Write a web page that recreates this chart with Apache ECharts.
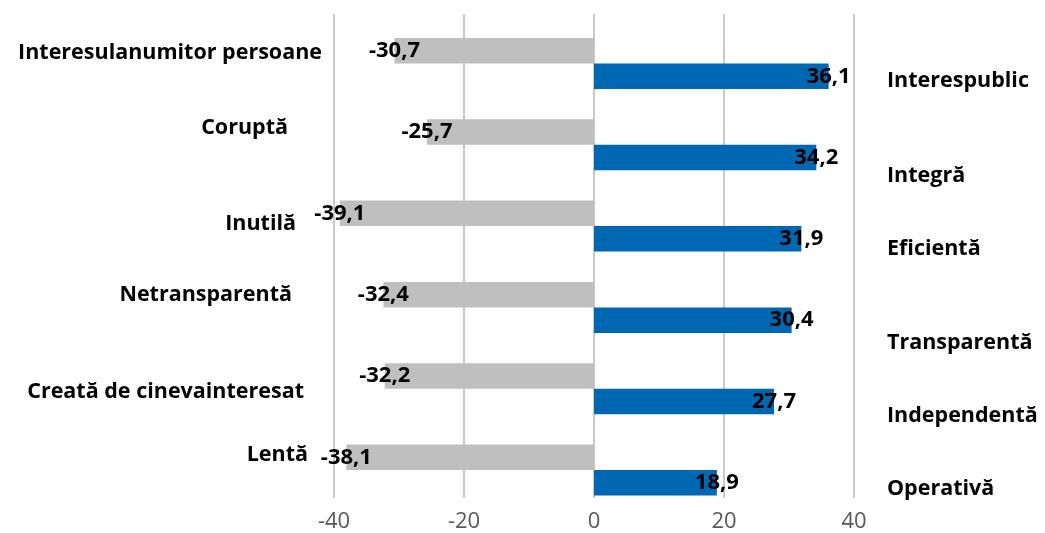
<!DOCTYPE html>
<html>
<head>
<meta charset="utf-8">
<script src="https://cdn.jsdelivr.net/npm/echarts@6/dist/echarts.min.js"></script>
<style>
html,body{margin:0;padding:0;background:#fff;}
#chart{width:1045px;height:533px;}
</style>
</head>
<body>
<div id="chart"></div>
<script>
// ---- data ----
const negCategories = ['Interesulanumitor persoane', 'Coruptă', 'Inutilă', 'Netransparentă', 'Creată de cinevainteresat', 'Lentă'];
const negValues = [-30.7, -25.7, -39.1, -32.4, -32.2, -38.1];
const posCategories = ['Interespublic', 'Integră', 'Eficientă', 'Transparentă', 'Independentă', 'Operativă'];
const posValues = [36.1, 34.2, 31.9, 30.4, 27.7, 18.9];
const xMin = -40, xMax = 40, xInterval = 20;

// ---- label placement styles (pixel nudges, not data) ----
const leftNudgeY = [-10.5, -17.3, -2.6, -12.4, 3.3, -15.5];
const leftNudgeX = [0, 34, 26, 30, 18, 14];
const rightNudgeY = [17, 31.2, 22.9, 35.6, 27.3, 19];

const FONT = '"Open Sans", sans-serif';
const fmt = v => v.toFixed(1).replace('.', ',');

function richFor(nudgesY, nudgesX) {
  const r = {};
  nudgesY.forEach((dy, i) => {
    const dx = nudgesX ? nudgesX[i] : 0;
    r['c' + i] = {
      fontFamily: FONT, fontWeight: 'bold', fontSize: 21.5, color: '#000',
      padding: [dy > 0 ? 2 * dy : 0, dx, dy < 0 ? -2 * dy : 0, 0]
    };
  });
  return r;
}

const chart = echarts.init(document.getElementById('chart'), null, {renderer: 'canvas'});
chart.setOption({
  backgroundColor: '#ffffff',
  animation: false,
  grid: [
    {left: 334, right: 191, top: 22.85, bottom: 22.35},
    {left: 334, right: 191, top: 14, bottom: 35}
  ],
  xAxis: [
    {gridIndex: 0, type: 'value', min: xMin, max: xMax, interval: xInterval, show: false},
    {gridIndex: 1, type: 'value', min: xMin, max: xMax, interval: xInterval,
     axisLine: {show: false}, axisTick: {show: false},
     splitLine: {show: true, lineStyle: {color: '#c9c9c9', width: 2}},
     axisLabel: {fontFamily: FONT, fontSize: 22, color: '#595959', margin: 13}}
  ],
  yAxis: [
    {gridIndex: 0, type: 'category', inverse: true, data: negCategories, position: 'left',
     axisLine: {show: false}, axisTick: {show: false}, splitLine: {show: false},
     axisLabel: {margin: 12, formatter: (v, i) => '{c' + i + '|' + v + '}', rich: richFor(leftNudgeY, leftNudgeX)}},
    {gridIndex: 0, type: 'category', inverse: true, data: posCategories, position: 'right',
     axisLine: {show: false}, axisTick: {show: false}, splitLine: {show: false},
     axisLabel: {margin: 33, formatter: (v, i) => '{c' + i + '|' + v + '}', rich: richFor(rightNudgeY, null)}},
    {gridIndex: 1, type: 'value', show: false}
  ],
  series: [
    {type: 'bar', xAxisIndex: 0, yAxisIndex: 0, data: negValues, barWidth: 25.5, barGap: '0%',
     itemStyle: {color: '#bfbfbf'},
     label: {show: true, position: 'left', distance: 0, align: 'center',
             fontFamily: FONT, fontWeight: 'bold', fontSize: 22, color: '#000',
             formatter: p => fmt(p.value)}},
    {type: 'bar', xAxisIndex: 0, yAxisIndex: 0, data: posValues, barWidth: 25.5, barGap: '0%',
     itemStyle: {color: '#0068b2'},
     label: {show: true, position: 'right', distance: 0, align: 'center',
             fontFamily: FONT, fontWeight: 'bold', fontSize: 22, color: '#000',
             formatter: p => fmt(p.value)}}
  ]
});
</script>
</body>
</html>
